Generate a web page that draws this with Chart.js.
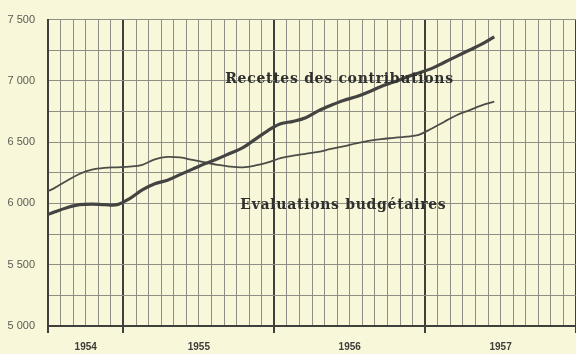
<!DOCTYPE html>
<html lang="fr">
<head>
<meta charset="utf-8">
<script src="https://cdn.jsdelivr.net/npm/chart.js@4.4.1/dist/chart.umd.min.js"></script>
<style>
    html, body { margin: 0; padding: 0; background: #f8f6da; }
    #wrap { width: 576px; height: 354px; }
</style>
</head>
<body>
<div id="wrap"><canvas id="recettesChart"></canvas></div>
<script>
// months counted from 1 July 1954, points plotted mid-month
const months = [0, 0.5, 1.5, 2.5, 3.5, 4.5, 5.5, 6.5, 7.5, 8.5, 9.5, 10.5, 11.5,
    12.5, 13.5, 14.5, 15.5, 16.5, 17.5, 18.5, 19.5, 20.5, 21.5, 22.5, 23.5,
    24.5, 25.5, 26.5, 27.5, 28.5, 29.5, 30.5, 31.5, 32.5, 33.5, 34.5, 35.5];

const recettes = [5910, 5930, 5965, 5990, 5995, 5990, 5990, 6040, 6110, 6160, 6190, 6235, 6280,
    6325, 6365, 6410, 6455, 6525, 6595, 6650, 6670, 6700, 6755, 6800, 6840,
    6870, 6910, 6955, 6990, 7030, 7065, 7100, 7150, 7200, 7250, 7300, 7360];

const evaluations = [6100, 6125, 6185, 6240, 6275, 6290, 6295, 6300, 6315, 6360, 6380, 6375, 6355,
    6335, 6315, 6300, 6295, 6310, 6335, 6370, 6390, 6405, 6420, 6445, 6465,
    6490, 6510, 6525, 6535, 6545, 6560, 6610, 6665, 6720, 6760, 6800, 6830];

// year labels sit in the middle of each year band
const yearLabels = { 3: '1954', 12: '1955', 24: '1956', 36: '1957' };
const yearBreaks = [0, 6, 18, 30, 42];

const seriesNames = ['Recettes des contributions', 'Evaluations budgétaires'];

const paper = '#f9f7da';
const ink = '#3f3f3c';
const thinGrid = '#8e8e86';

function toPoints(values) {
    return values.map((v, i) => ({ x: months[i], y: v }));
}

function formatThousands(v) {
    return String(v).replace(/\B(?=(\d{3})+(?!\d))/g, ' ');
}

const paperBackground = {
    id: 'paperBackground',
    beforeDraw(chart) {
        const c = chart.ctx;
        c.save();
        c.fillStyle = paper;
        c.fillRect(0, 0, chart.width, chart.height);
        c.restore();
    }
};

// series names written on the grid next to each curve
const curveNames = {
    id: 'curveNames',
    afterDatasetsDraw(chart) {
        const c = chart.ctx;
        const x = chart.scales.x;
        const y = chart.scales.y;
        c.save();
        c.fillStyle = '#2f2f2d';
        c.font = 'bold 14px "DejaVu Serif"';
        c.letterSpacing = '0.7px';
        c.textBaseline = 'middle';
        c.textAlign = 'left';
        c.fillText(seriesNames[0], x.getPixelForValue(14.1), y.getPixelForValue(7010));
        c.fillText(seriesNames[1], x.getPixelForValue(15.3), y.getPixelForValue(5985));
        c.restore();
    }
};

new Chart(document.getElementById('recettesChart'), {
    type: 'line',
    data: {
        datasets: [{
            label: seriesNames[0],
            data: toPoints(recettes),
            borderColor: '#434341',
            borderWidth: 3.2,
            pointRadius: 0,
            tension: 0.35
        }, {
            label: seriesNames[1],
            data: toPoints(evaluations),
            borderColor: '#4c4c49',
            borderWidth: 1.8,
            pointRadius: 0,
            tension: 0.35
        }]
    },
    options: {
        responsive: true,
        maintainAspectRatio: false,
        animation: false,
        layout: {
            padding: { top: 11, right: -1, bottom: 0, left: 0 }
        },
        scales: {
            x: {
                type: 'linear',
                min: 0,
                max: 42,
                afterBuildTicks: (scale) => {
                    const ticks = [];
                    for (let m = 0; m <= 42; m++) ticks.push({ value: m });
                    scale.ticks = ticks;
                },
                afterFit: (scale) => {
                    scale.height = 28;
                    scale.paddingLeft = 0;
                    scale.paddingRight = 0;
                },
                border: { color: ink, width: 2 },
                grid: {
                    color: (ctx) => yearBreaks.includes(ctx.tick.value) ? ink : thinGrid,
                    lineWidth: (ctx) => yearBreaks.includes(ctx.tick.value) ? 2 : 1,
                    tickColor: (ctx) => yearBreaks.includes(ctx.tick.value) ? ink : 'rgba(0,0,0,0)',
                    tickWidth: 2,
                    tickLength: 7
                },
                ticks: {
                    autoSkip: false,
                    maxRotation: 0,
                    padding: 8,
                    color: '#3c3c3a',
                    font: { family: '"Liberation Sans"', size: 10, weight: 'bold' },
                    callback: (v) => yearLabels[v] || ''
                }
            },
            y: {
                min: 5000,
                max: 7500,
                afterFit: (scale) => { scale.width = 48; },
                border: { color: ink, width: 2 },
                grid: {
                    color: thinGrid,
                    lineWidth: 1,
                    drawTicks: false
                },
                ticks: {
                    stepSize: 250,
                    padding: 13,
                    color: '#5a5a55',
                    font: { family: '"Liberation Sans"', size: 11 },
                    callback: (v) => v % 500 === 0 ? formatThousands(v) : ''
                }
            }
        },
        plugins: {
            legend: { display: false },
            tooltip: { enabled: false },
            title: { display: false }
        }
    },
    plugins: [paperBackground, curveNames]
});
</script>
</body>
</html>
